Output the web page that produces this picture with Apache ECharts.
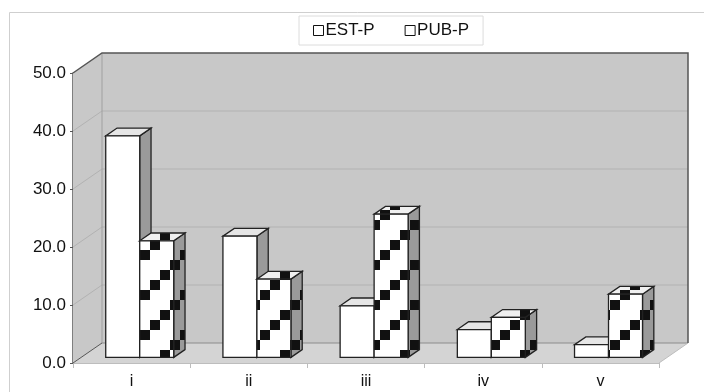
<!DOCTYPE html>
<html>
<head>
<meta charset="utf-8">
<script src="https://cdn.jsdelivr.net/npm/echarts@6/dist/echarts.min.js"></script>
<style>
  html, body { margin: 0; padding: 0; background: #fff; }
  #chart { width: 704px; height: 392px; }
</style>
</head>
<body>
<div id="chart"></div>
<script>
// Categories and series values
const categories = ['i', 'ii', 'iii', 'iv', 'v'];
const estP = [38.2, 20.9, 8.9, 4.8, 2.2];
const pubP = [20.1, 13.5, 24.7, 6.9, 10.9];
// Value axis ticks
const yTicks = [0, 10, 20, 30, 40, 50];

const FONT = 'Liberation Sans, Arial, sans-serif';

// Depth of the 3D box (pixels from front plane to back wall)
const DX = 29, DY = -20;
// Bars sit between these depth fractions
const F0 = 0.28, F1 = 0.67;
const BAR_FRAC = 0.29;

// Diagonal staircase pattern for the PUB-P bars
function makePattern(bg) {
  const c = document.createElement('canvas');
  c.width = 40; c.height = 40;
  const g = c.getContext('2d');
  g.fillStyle = bg;
  g.fillRect(0, 0, 40, 40);
  g.fillStyle = '#111';
  for (let k = 0; k < 4; k++) {
    g.fillRect(k * 10, 30 - k * 10, 10, 10);
  }
  return { image: c, repeat: 'repeat' };
}
const patFront = makePattern('#ffffff');
const patSide = makePattern('#9a9a9a');
const patTop = makePattern('#f0f0f0');

function renderWalls(params, api) {
  const cs = params.coordSys;
  const x0 = cs.x, x1 = cs.x + cs.width;
  const yBot = api.coord([0, yTicks[0]])[1];
  const yTop = api.coord([0, yTicks[yTicks.length - 1]])[1];
  const children = [];
  // back wall
  children.push({
    type: 'rect',
    shape: { x: x0 + DX, y: yTop + DY, width: x1 - x0, height: yBot - yTop },
    style: { fill: '#c8c8c8', stroke: null }
  });
  // left wall
  children.push({
    type: 'polygon',
    shape: { points: [[x0, yTop], [x0 + DX, yTop + DY], [x0 + DX, yBot + DY], [x0, yBot]] },
    style: { fill: '#c8c8c8', stroke: null }
  });
  // floor
  children.push({
    type: 'polygon',
    shape: { points: [[x0, yBot], [x1, yBot], [x1 + DX, yBot + DY], [x0 + DX, yBot + DY]] },
    style: { fill: '#d4d4d4', stroke: null }
  });
  // grid lines on the back and left walls
  yTicks.slice(1, -1).forEach(function (v) {
    const y = api.coord([0, v])[1];
    children.push({
      type: 'polyline',
      shape: { points: [[x0, y], [x0 + DX, y + DY], [x1 + DX, y + DY]] },
      style: { stroke: '#b2b2b2', lineWidth: 1, fill: null }
    });
  });
  // back wall left edge
  children.push({
    type: 'line',
    shape: { x1: x0 + DX, y1: yTop + DY, x2: x0 + DX, y2: yBot + DY },
    style: { stroke: '#a0a0a0', lineWidth: 1 }
  });
  // back wall bottom edge
  children.push({
    type: 'line',
    shape: { x1: x0 + DX, y1: yBot + DY, x2: x1 + DX, y2: yBot + DY },
    style: { stroke: '#8c8c8c', lineWidth: 1 }
  });
  // floor right edge
  children.push({
    type: 'line',
    shape: { x1: x1, y1: yBot, x2: x1 + DX, y2: yBot + DY },
    style: { stroke: '#bdbdbd', lineWidth: 1 }
  });
  // left wall bottom edge
  children.push({
    type: 'line',
    shape: { x1: x0, y1: yBot, x2: x0 + DX, y2: yBot + DY },
    style: { stroke: '#555', lineWidth: 1 }
  });
  // outer edges of the box
  children.push({
    type: 'polyline',
    shape: { points: [[x0, yTop], [x0 + DX, yTop + DY], [x1 + DX, yTop + DY], [x1 + DX, yBot + DY]] },
    style: { stroke: '#555', lineWidth: 1.5, fill: null }
  });
  return { type: 'group', children: children };
}

function makeBarRenderer(side, front, sideFill, topFill) {
  return function (params, api) {
    const idx = api.value(0);
    const val = api.value(1);
    const top = api.coord([idx, val]);
    const base = api.coord([idx, 0]);
    const band = api.size([1, 0])[0];
    const w = band * BAR_FRAC;
    const cx = top[0];
    const xL = side < 0 ? cx - w : cx;
    const xR = side < 0 ? cx : cx + w;
    const fdx = DX * F0, fdy = DY * F0;
    const bdx = DX * F1, bdy = DY * F1;
    const yT = top[1], yB = base[1];
    const stroke = '#222';
    const lw = 1.3;
    return {
      type: 'group',
      children: [
        {
          type: 'polygon',
          shape: { points: [[xR + fdx, yT + fdy], [xR + bdx, yT + bdy], [xR + bdx, yB + bdy], [xR + fdx, yB + fdy]] },
          style: { fill: sideFill, stroke: stroke, lineWidth: lw }
        },
        {
          type: 'polygon',
          shape: { points: [[xL + fdx, yT + fdy], [xR + fdx, yT + fdy], [xR + bdx, yT + bdy], [xL + bdx, yT + bdy]] },
          style: { fill: topFill, stroke: stroke, lineWidth: lw }
        },
        {
          type: 'rect',
          shape: { x: xL + fdx, y: yT + fdy, width: xR - xL, height: yB - yT },
          style: { fill: front, stroke: stroke, lineWidth: lw }
        }
      ]
    };
  };
}

const chart = echarts.init(document.getElementById('chart'), null, { renderer: 'canvas' });

chart.setOption({
  animation: false,
  backgroundColor: '#fff',
  graphic: [{
    type: 'rect',
    z: -10,
    silent: true,
    shape: { x: 9.5, y: 12.5, width: 800, height: 500 },
    style: { fill: null, stroke: '#cfcfcf', lineWidth: 1 }
  }],
  legend: {
    left: 299,
    top: 16,
    padding: [6, 14],
    itemGap: 30,
    itemWidth: 10,
    itemHeight: 10,
    borderColor: '#dcdcdc',
    borderWidth: 1,
    icon: 'rect',
    textStyle: { fontFamily: FONT, fontSize: 17, color: '#111', padding: [0, 0, 0, -3] },
    data: [
      { name: 'EST-P', itemStyle: { color: '#fff', borderColor: '#111', borderWidth: 1 } },
      { name: 'PUB-P', itemStyle: { color: '#fff', borderColor: '#111', borderWidth: 1 } }
    ]
  },
  grid: { left: 73, right: 45, top: 73, bottom: 29 },
  xAxis: {
    type: 'category',
    data: categories,
    axisLine: { lineStyle: { color: '#bdbdbd', width: 1 } },
    axisTick: { show: true, length: 5, lineStyle: { color: '#bdbdbd' } },
    axisLabel: { fontFamily: FONT, fontSize: 16, color: '#111', margin: 11 },
    splitLine: { show: false }
  },
  yAxis: {
    type: 'value',
    min: 0,
    max: 50,
    interval: 10,
    axisLine: { show: true, lineStyle: { color: '#555', width: 1.5 } },
    axisTick: { show: true, length: 3, lineStyle: { color: '#555' } },
    axisLabel: {
      fontFamily: FONT, fontSize: 17, color: '#111', margin: 7,
      formatter: function (v) { return v.toFixed(1); }
    },
    splitLine: { show: false }
  },
  series: [
    {
      type: 'custom',
      name: 'walls',
      silent: true,
      z: 1,
      renderItem: renderWalls,
      data: [[0, 0]]
    },
    {
      type: 'custom',
      name: 'EST-P',
      z: 2,
      itemStyle: { color: '#fff', borderColor: '#111' },
      renderItem: makeBarRenderer(-1, '#ffffff', '#9a9a9a', '#e6e6e6'),
      data: estP.map(function (v, i) { return [i, v]; })
    },
    {
      type: 'custom',
      name: 'PUB-P',
      z: 2,
      itemStyle: { color: '#fff', borderColor: '#111' },
      renderItem: makeBarRenderer(1, patFront, patSide, patTop),
      data: pubP.map(function (v, i) { return [i, v]; })
    }
  ]
});
</script>
</body>
</html>
